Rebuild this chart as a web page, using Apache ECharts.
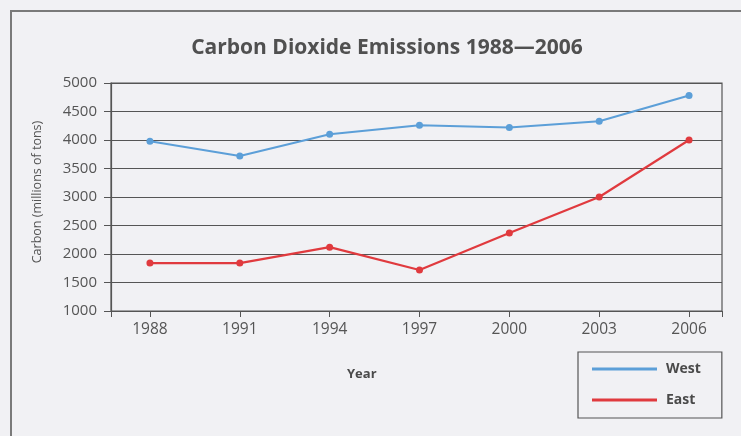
<!DOCTYPE html>
<html>
<head>
<meta charset="utf-8">
<script src="https://cdn.jsdelivr.net/npm/echarts@6/dist/echarts.min.js"></script>
<style>
  html, body { margin: 0; padding: 0; background: #f1f1f4; }
  #main { width: 741px; height: 436px; }
</style>
</head>
<body>
<div id="main"></div>
<script>
// data
var years = [1988, 1991, 1994, 1997, 2000, 2003, 2006];
var west = [3980, 3720, 4100, 4260, 4220, 4330, 4780];
var east = [1840, 1840, 2120, 1720, 2370, 3000, 4000];
var yTicks = [1000, 5000, 500]; // min, max, step

var xMin = 1986.7, xMax = 2007.1;
var labelFont = 'Open Sans';

function pairs(vals) {
    return years.map(function (y, i) { return [y, vals[i]]; });
}

var chart = echarts.init(document.getElementById('main'));

var option = {
    backgroundColor: '#f1f1f4',
    animation: false,
    title: {
        text: 'Carbon Dioxide Emissions 1988—2006',
        left: 382, top: 33, textAlign: 'center',
        textStyle: { fontFamily: labelFont, fontSize: 21, fontWeight: 'bold', color: '#505050' }
    },
    graphic: [
        // outer frame (only top and left edges are in the photo)
        { type: 'polyline', shape: { points: [[11, 436], [11, 11], [741, 11]] },
          style: { stroke: '#7a7a7a', lineWidth: 2, fill: null } },
        { type: 'text', left: 347, top: 368,
          style: { text: 'Year', font: 'bold 13px "Open Sans"', fill: '#4a4a4a' } }
    ],
    legend: {
        orient: 'vertical',
        left: 578, top: 352,
        padding: [10, 21, 11, 14],
        itemGap: 17,
        itemWidth: 65, itemHeight: 3,
        icon: 'rect',
        borderColor: '#555', borderWidth: 1.2,
        textStyle: { fontFamily: labelFont, fontSize: 14, fontWeight: 'bold', color: '#4a4a4a', padding: [0, 0, 0, 4] },
        data: ['West', 'East']
    },
    grid: {
        left: 111, right: 19, top: 83, bottom: 125,
        show: true, borderColor: '#555', borderWidth: 1.2
    },
    xAxis: {
        type: 'value',
        min: xMin, max: xMax,
        axisLine: { show: true, lineStyle: { color: '#555', width: 1.2 } },
        axisTick: { show: true, length: 6, lineStyle: { color: '#555' },
                    customValues: [xMin].concat(years, [xMax]) },
        axisLabel: { customValues: years, margin: 11, color: '#555',
                     fontFamily: labelFont, fontSize: 15.5,
                     formatter: function (v) { return String(Math.round(v)); } },
        splitLine: { show: false }
    },
    yAxis: {
        type: 'value',
        min: yTicks[0], max: yTicks[1], interval: yTicks[2],
        name: 'Carbon (millions of tons)',
        nameLocation: 'middle', nameGap: 67,
        nameTextStyle: { fontFamily: labelFont, fontSize: 12.5, color: '#555', padding: [0, 0, 0, 10] },
        axisLine: { show: true, lineStyle: { color: '#555', width: 1.2 } },
        axisTick: { show: true, length: 7, lineStyle: { color: '#555' } },
        axisLabel: { margin: 14, color: '#555', fontFamily: labelFont, fontSize: 15,
                     formatter: function (v) { return String(v); } },
        splitLine: { lineStyle: { color: '#555', width: 1.2 } }
    },
    series: [
        {
            name: 'West', type: 'line', data: pairs(west),
            symbol: 'circle', symbolSize: 7,
            lineStyle: { color: '#5c9fd8', width: 2 },
            itemStyle: { color: '#5c9fd8' }
        },
        {
            name: 'East', type: 'line', data: pairs(east),
            symbol: 'circle', symbolSize: 7,
            lineStyle: { color: '#e03a3e', width: 2.2 },
            itemStyle: { color: '#e03a3e' }
        }
    ]
};

chart.setOption(option);
</script>
</body>
</html>
